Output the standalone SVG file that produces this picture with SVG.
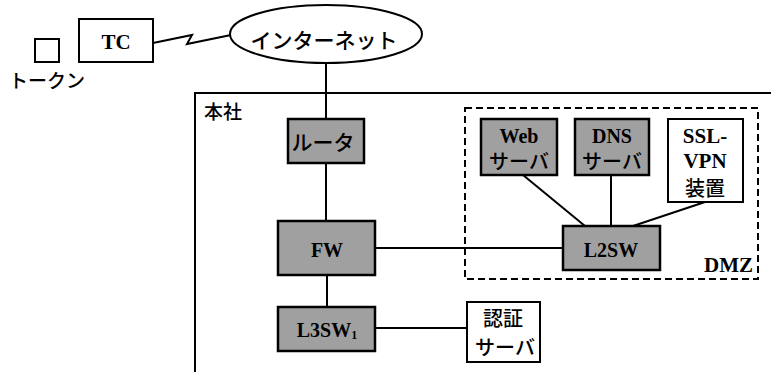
<svg xmlns="http://www.w3.org/2000/svg" width="771" height="372" viewBox="0 0 771 372">
<style>
.bx{fill:#fff;stroke:#000;stroke-width:2}
.sh{fill:#a0a0a0;stroke:#000;stroke-width:2.5}
.ln{fill:none;stroke:#000;stroke-width:2}
.jp{font-family:"Noto Sans CJK JP","Noto Sans",sans-serif;fill:#000;font-weight:500}
.sf{font-family:"Liberation Serif","Noto Sans CJK JP",serif;fill:#000;font-weight:bold}
.m{text-anchor:middle}
</style>
<rect width="771" height="372" fill="#fff"/>
<g id="honsha">
<path class="ln" d="M195,372 V93 H771"/>
<text class="jp" x="204" y="119" font-size="19">本社</text>
</g>
<g id="dmz">
<rect x="465" y="108" width="293" height="171" fill="none" stroke="#000" stroke-width="2" stroke-dasharray="7,4"/>
<text class="sf" x="753" y="272" font-size="21" text-anchor="end">DMZ</text>
</g>
<g id="connectors">
<path class="ln" d="M153,43 L192,35 L187,44 L231,35"/>
<line class="ln" x1="326" y1="63" x2="326" y2="119"/>
<line class="ln" x1="326" y1="163" x2="326" y2="221"/>
<line class="ln" x1="327" y1="275" x2="327" y2="307"/>
<line class="ln" x1="375" y1="248" x2="563" y2="248"/>
<line class="ln" x1="375" y1="328" x2="467" y2="328"/>
<line class="ln" x1="523" y1="175" x2="585" y2="226"/>
<line class="ln" x1="611" y1="175" x2="611" y2="226"/>
<line class="ln" x1="705" y1="202" x2="633" y2="226"/>
</g>
<g id="token">
<rect class="bx" x="35" y="39" width="24" height="23"/>
<text class="jp" x="9" y="88" font-size="19">トークン</text>
</g>
<g id="tc">
<rect class="bx" x="79" y="19" width="74" height="43"/>
<text class="sf m" x="116" y="49" font-size="21">TC</text>
</g>
<g id="internet">
<ellipse cx="326" cy="34" rx="96" ry="29" fill="#fff" stroke="#000" stroke-width="2"/>
<text class="jp m" x="324" y="48" font-size="21">インターネット</text>
</g>
<g id="router">
<rect class="sh" x="288" y="119" width="76" height="44"/>
<text class="jp m" x="323" y="150" font-size="21">ルータ</text>
</g>
<g id="fw">
<rect class="sh" x="278" y="221" width="97" height="54"/>
<text class="sf m" x="327" y="257" font-size="20">FW</text>
</g>
<g id="l3sw">
<rect class="sh" x="278" y="307" width="97" height="44"/>
<text class="sf m" x="327" y="337" font-size="20">L3SW<tspan font-size="12" dy="2">1</tspan></text>
</g>
<g id="auth">
<rect class="bx" x="467" y="302" width="73" height="60"/>
<text class="jp m" x="503" y="326" font-size="20">認証</text>
<text class="jp m" x="505" y="355" font-size="20">サーバ</text>
</g>
<g id="web">
<rect class="sh" x="481" y="119" width="76" height="56"/>
<text class="sf m" x="519" y="143" font-size="20">Web</text>
<text class="jp m" x="519" y="169" font-size="20">サーバ</text>
</g>
<g id="dns">
<rect class="sh" x="575" y="119" width="74" height="56"/>
<text class="sf m" x="612" y="143" font-size="20">DNS</text>
<text class="jp m" x="612" y="169" font-size="20">サーバ</text>
</g>
<g id="sslvpn">
<rect class="bx" x="668" y="119" width="75" height="83"/>
<text class="sf m" x="705" y="143" font-size="21">SSL-</text>
<text class="sf m" x="705" y="168" font-size="21">VPN</text>
<text class="jp m" x="705" y="196" font-size="20">装置</text>
</g>
<g id="l2sw">
<rect class="sh" x="563" y="226" width="97" height="44"/>
<text class="sf m" x="611" y="257" font-size="20">L2SW</text>
</g>
</svg>
